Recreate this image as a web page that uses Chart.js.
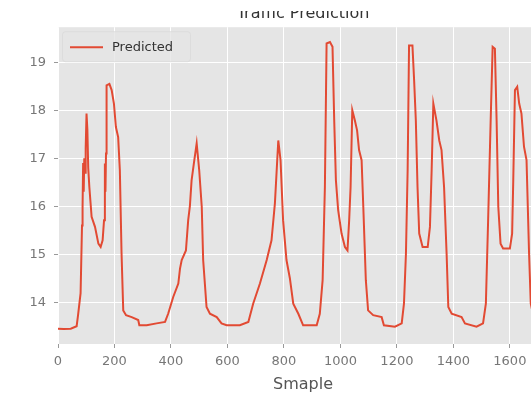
<!DOCTYPE html>
<html>
<head>
<meta charset="utf-8">
<script src="https://cdn.jsdelivr.net/npm/chart.js@4/dist/chart.umd.min.js"></script>
<style>
  html, body { margin: 0; padding: 0; background: #fff; overflow: hidden; }
  #wrap { position: absolute; left: 0; top: 0; width: 550px; height: 394px; }
  #topMask { position: absolute; left: 0; top: 0; width: 531px; height: 11px; background: #fff; z-index: 2; }
</style>
</head>
<body>
<div id="wrap"><canvas id="trafficChart"></canvas></div>
<div id="topMask"></div>
<script>
// Traffic prediction line chart (ggplot look)

const sampleX = [
    0, 20, 45, 66, 71, 80, 85, 87, 89, 91, 93, 96, 98, 101, 104, 107, 111, 119, 131, 143,
    151, 158, 163, 166, 168, 170, 172, 182, 190, 198, 205, 213, 219, 225, 231, 241, 261, 284, 288, 314,
    349, 379, 390, 408, 426, 432, 438, 453, 461, 467, 473, 481, 491, 500, 509, 514, 526, 538, 562, 579,
    597, 644, 674, 691, 715, 739, 756, 768, 780, 788, 797, 809, 821, 833, 851, 868, 916, 927, 937, 945,
    951, 963, 972, 978, 984, 992, 1004, 1016, 1025, 1031, 1036, 1042, 1051, 1059, 1066, 1075, 1081, 1090, 1098, 1116,
    1146, 1154, 1193, 1217, 1225, 1232, 1238, 1243, 1255, 1261, 1267, 1273, 1279, 1291, 1309, 1317, 1323, 1329, 1340, 1350,
    1358, 1367, 1376, 1382, 1394, 1429, 1441, 1482, 1505, 1515, 1523, 1532, 1539, 1547, 1553, 1559, 1567, 1576, 1600, 1608,
    1612, 1618, 1626, 1633, 1641, 1650, 1659, 1668, 1674, 1682, 1700
];

const predicted = [
    13.45, 13.44, 13.45, 13.5, 13.73, 14.19, 15.6, 16.0, 16.9, 16.3, 17.0, 16.7, 17.2, 17.93, 17.6, 16.8, 16.4, 15.78, 15.57, 15.22,
    15.15, 15.29, 15.71, 16.89, 16.3, 17.1, 18.52, 18.55, 18.42, 18.14, 17.65, 17.44, 16.75, 15.02, 13.83, 13.73, 13.69, 13.63, 13.52, 13.52,
    13.56, 13.59, 13.76, 14.11, 14.39, 14.7, 14.88, 15.08, 15.71, 16.0, 16.54, 16.89, 17.31, 16.75, 15.99, 14.88, 13.9, 13.76, 13.69, 13.56,
    13.52, 13.52, 13.59, 13.97, 14.39, 14.88, 15.29, 16.06, 17.37, 16.96, 15.71, 14.88, 14.5, 13.97, 13.76, 13.52, 13.52, 13.76, 14.46, 16.4,
    19.39, 19.42, 19.32, 17.79, 16.54, 15.92, 15.43, 15.15, 15.08, 15.71, 16.4, 18.0, 17.79, 17.58, 17.17, 16.96, 15.99, 14.46, 13.83, 13.73,
    13.69, 13.52, 13.49, 13.56, 13.97, 15.01, 16.75, 19.35, 19.35, 18.62, 17.79, 16.4, 15.43, 15.15, 15.15, 15.57, 16.75, 18.14, 17.79, 17.37,
    17.17, 16.4, 15.01, 13.9, 13.76, 13.69, 13.56, 13.49, 13.56, 13.97, 15.71, 17.79, 19.32, 19.28, 17.79, 15.99, 15.22, 15.12, 15.12, 15.43,
    16.54, 18.42, 18.49, 18.14, 17.93, 17.24, 16.96, 15.01, 13.97, 13.75, 13.7
];

const xTicks = [0, 200, 400, 600, 800, 1000, 1200, 1400, 1600];
const yTicks = [14, 15, 16, 17, 18, 19];

const FONT = "'DejaVu Sans', sans-serif";

// grey panel behind the plot
const panelBg = {
    id: 'panelBg',
    beforeDraw(chart) {
        const a = chart.chartArea;
        const ctx = chart.ctx;
        ctx.save();
        ctx.fillStyle = '#E5E5E5';
        ctx.fillRect(a.left, a.top, a.right - a.left, a.bottom - a.top);
        ctx.restore();
    }
};

// matplotlib style legend inside the axes, upper left
const innerLegend = {
    id: 'innerLegend',
    afterDatasetsDraw(chart) {
        const a = chart.chartArea;
        const ctx = chart.ctx;
        const ds = chart.data.datasets[0];
        const bx = a.left + 4, by = a.top + 4, bw = 128, bh = 30;
        ctx.save();
        ctx.fillStyle = 'rgba(229,229,229,0.8)';
        ctx.strokeStyle = 'rgba(218,218,218,0.8)';
        ctx.lineWidth = 1;
        ctx.beginPath();
        ctx.roundRect(bx + 0.5, by + 0.5, bw, bh, 3);
        ctx.fill();
        ctx.stroke();
        const cy = by + bh / 2 + 1;
        ctx.strokeStyle = ds.borderColor;
        ctx.lineWidth = 2;
        ctx.beginPath();
        ctx.moveTo(a.left + 12, cy);
        ctx.lineTo(a.left + 45, cy);
        ctx.stroke();
        ctx.fillStyle = '#333';
        ctx.font = '13px ' + FONT;
        ctx.textBaseline = 'middle';
        ctx.fillText(ds.label, a.left + 54, cy);
        ctx.restore();
    }
};

const ctx = document.getElementById('trafficChart');
new Chart(ctx, {
    type: 'line',
    data: {
        datasets: [{
            label: 'Predicted',
            data: sampleX.map((x, i) => ({ x: x, y: predicted[i] })),
            borderColor: '#E24A33',
            borderWidth: 2,
            pointRadius: 0,
            tension: 0,
            fill: false
        }]
    },
    options: {
        responsive: true,
        maintainAspectRatio: false,
        animation: false,
        layout: {
            padding: { top: 4, right: 2, bottom: 0, left: 0 }
        },
        plugins: {
            legend: { display: false },
            tooltip: { enabled: false },
            title: {
                display: true,
                text: 'Traffic Prediction',
                fullSize: false,
                color: '#333',
                font: { family: FONT, size: 16, weight: 'normal' },
                padding: { top: 0, bottom: 4 }
            }
        },
        scales: {
            x: {
                type: 'linear',
                min: 0,
                max: 1735,
                afterBuildTicks: (scale) => { scale.ticks = xTicks.map(v => ({ value: v })); },
                afterFit: (scale) => { scale.height = 50; },
                border: { display: false },
                grid: { color: '#fff', lineWidth: 1, tickColor: '#999', tickLength: 4 },
                ticks: {
                    color: '#777',
                    padding: 6,
                    maxRotation: 0,
                    font: { family: FONT, size: 13 },
                    callback: (v) => String(v)
                },
                title: {
                    display: true,
                    text: 'Smaple',
                    color: '#555',
                    font: { family: FONT, size: 16 },
                    padding: { top: 0, bottom: 0 }
                }
            },
            y: {
                min: 13.13,
                max: 19.73,
                afterBuildTicks: (scale) => { scale.ticks = yTicks.map(v => ({ value: v })); },
                afterFit: (scale) => { scale.width = 58; },
                border: { display: false },
                grid: { color: '#fff', lineWidth: 1, tickColor: '#999', tickLength: 4 },
                ticks: {
                    color: '#777',
                    padding: 8,
                    font: { family: FONT, size: 13 },
                    callback: (v) => String(v)
                }
            }
        }
    },
    plugins: [panelBg, innerLegend]
});
</script>
</body>
</html>
